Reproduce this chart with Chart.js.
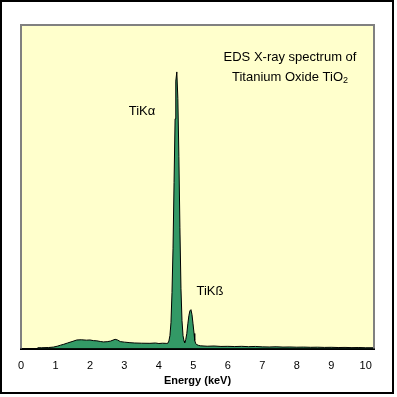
<!DOCTYPE html>
<html>
<head>
<meta charset="utf-8">
<script src="https://cdn.jsdelivr.net/npm/chart.js@4.4.1/dist/chart.umd.min.js"></script>
<style>
  body { margin: 0; background: #fff; }
  canvas { display: block; }
</style>
</head>
<body>
<canvas id="mySpectre" width="397" height="397"></canvas>
<script>
// energies (keV) and counts
const energies = [
  0.48, 0.6, 0.8, 0.94, 1.05, 1.15, 1.24, 1.35, 1.48, 1.62, 1.75, 1.9, 2.0, 2.1, 2.2, 2.3, 2.39, 2.5, 2.6, 2.73,
  2.8, 2.88, 3.0, 3.16, 3.3, 3.5, 3.74, 3.9, 4.0, 4.1, 4.18,
  4.23, 4.26, 4.29, 4.32, 4.35, 4.38, 4.41, 4.44, 4.47, 4.49, 4.52, 4.55, 4.58, 4.61, 4.64, 4.67, 4.70, 4.73, 4.75,
  4.78, 4.81, 4.84, 4.87, 4.90, 4.93, 4.96, 4.99, 5.02, 5.04, 5.07, 5.10, 5.15,
  5.2, 5.4, 5.6, 5.8, 6.0, 6.2, 6.4, 6.6, 6.8, 7.0, 7.2, 7.4, 7.6, 7.8, 8.0, 8.2, 8.4, 8.6, 8.8, 9.0, 9.2, 9.4,
  9.6, 9.8, 10.0, 10.24
];
const counts = [
  8, 8, 10, 14, 22, 32, 40, 52, 65, 80, 82, 78, 80, 74, 72, 66, 62, 64, 70, 86,
  80, 65, 60, 55, 52, 50, 49, 52, 47, 50, 49,
  48, 50, 70, 120, 240, 520, 930, 1540, 2130, 2480, 2565, 2320, 1780, 1120, 560, 260, 120, 70, 55,
  85, 140, 230, 305, 350, 361, 315, 230, 140, 75, 45, 37, 30,
  26, 22, 24, 20, 21, 19, 21, 18, 20, 16, 15, 17, 14, 15, 13, 14, 12, 13, 11, 12, 10, 11,
  9, 10, 8, 8
];
const tickValues = [0, 1, 2, 3, 4, 5, 6, 7, 8, 9, 10];

const spectre = energies.map((e, i) => ({ x: e, y: counts[i] }));

const fondPlugin = {
  id: 'fond',
  beforeDraw(chart) {
    const ctx = chart.ctx, a = chart.chartArea;
    ctx.save();
    ctx.fillStyle = '#ffffff';
    ctx.fillRect(0, 0, chart.width, chart.height);
    ctx.fillStyle = '#ffffcc';
    ctx.fillRect(a.left, a.top, a.right - a.left, a.bottom - a.top);
    ctx.restore();
  },
  afterDraw(chart) {
    const ctx = chart.ctx, a = chart.chartArea;
    ctx.save();
    // cadre gris de la zone de tracé
    ctx.strokeStyle = '#808080';
    ctx.lineWidth = 2;
    ctx.beginPath();
    ctx.moveTo(a.left, a.bottom);
    ctx.lineTo(a.left, a.top);
    ctx.lineTo(a.right, a.top);
    ctx.lineTo(a.right, a.bottom);
    ctx.stroke();
    // cadre noir extérieur
    ctx.strokeStyle = '#000000';
    ctx.strokeRect(1, 1, 392, 392);

    // textes
    ctx.fillStyle = '#000000';
    ctx.font = '13px "Liberation Sans", Arial, sans-serif';
    ctx.textAlign = 'center';
    ctx.textBaseline = 'middle';
    ctx.fillText('EDS X-ray spectrum of', 290, 57);
    const ligne = 'Titanium Oxide TiO';
    const w = ctx.measureText(ligne).width;
    ctx.font = '9px "Liberation Sans", Arial, sans-serif';
    const w2 = ctx.measureText('2').width;
    const x0 = 290 - (w + w2) / 2;
    ctx.textAlign = 'left';
    ctx.fillText('2', x0 + w, 81);
    ctx.font = '13px "Liberation Sans", Arial, sans-serif';
    ctx.fillText(ligne, x0, 77);
    ctx.textAlign = 'center';
    ctx.fillText('TiKα', 142, 111);
    ctx.fillText('TiKß', 210, 291);
    ctx.restore();
  }
};

new Chart(document.getElementById('mySpectre'), {
  type: 'scatter',
  data: {
    datasets: [{
      data: spectre,
      showLine: true,
      fill: 'origin',
      backgroundColor: '#339966',
      borderColor: '#000000',
      borderWidth: 1,
      pointRadius: 0,
      tension: 0
    }]
  },
  options: {
    responsive: false,
    animation: false,
    layout: { padding: { left: 21, right: 23, top: 25, bottom: 9 } },
    plugins: { legend: { display: false }, tooltip: { enabled: false } },
    scales: {
      x: {
        type: 'linear',
        min: 0,
        max: 10.24,
        afterBuildTicks(scale) {
          scale.ticks = tickValues.map(v => ({ value: v }));
        },
        grid: { display: false, drawTicks: false },
        border: { display: true, color: '#000000', width: 2 },
        ticks: {
          padding: 11,
          color: '#000000',
          font: { family: '"Liberation Sans", Arial, sans-serif', size: 11 }
        },
        title: {
          display: true,
          text: 'Energy (keV)',
          color: '#000000',
          padding: { top: -9, bottom: 0 },
          font: { family: '"Liberation Sans", Arial, sans-serif', size: 11, weight: 'bold' }
        }
      },
      y: {
        display: false,
        min: 0,
        max: 3000
      }
    }
  },
  plugins: [fondPlugin]
});
</script>
</body>
</html>
